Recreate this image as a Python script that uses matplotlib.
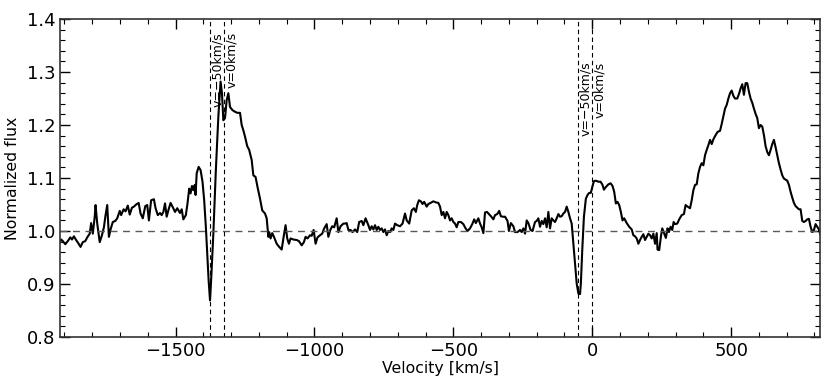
import matplotlib
matplotlib.use("Agg")
import matplotlib.pyplot as plt
from matplotlib.ticker import MultipleLocator

# spectrum
velocity = [
    -1924, -1917, -1912, -1906, -1897, -1888, -1879, -1873, -1866, -1858,
    -1849, -1842, -1834, -1825, -1818, -1809, -1804, -1798, -1791, -1788,
    -1782, -1773, -1765, -1758, -1752, -1746, -1740, -1734, -1726, -1717,
    -1710, -1701, -1696, -1687, -1680, -1672, -1665, -1657, -1650, -1642,
    -1633, -1626, -1618, -1609, -1602, -1596, -1588, -1578, -1572, -1564,
    -1556, -1550, -1544, -1538, -1532, -1526, -1518, -1511, -1502, -1494,
    -1484, -1478, -1472, -1463, -1457, -1451, -1446, -1441, -1436, -1431,
    -1428, -1424, -1417, -1410, -1403, -1397, -1391, -1386, -1381, -1376,
    -1372, -1364, -1355, -1346, -1338, -1333, -1328, -1322, -1316, -1310,
    -1304, -1295, -1286, -1278, -1268, -1262, -1256, -1250, -1242, -1235,
    -1226, -1220, -1212, -1205, -1196, -1188, -1178, -1172, -1166, -1163,
    -1158, -1152, -1145, -1136, -1127, -1118, -1111, -1104, -1098, -1092,
    -1086, -1076, -1064, -1056, -1046, -1038, -1032, -1025, -1016, -1010,
    -1003, -996, -989, -980, -972, -965, -956, -950, -943, -936,
    -929, -920, -914, -906, -896, -890, -884, -878, -870, -863,
    -854, -846, -839, -830, -824, -816, -806, -800, -794, -788,
    -782, -776, -770, -764, -758, -752, -746, -740, -734, -728,
    -722, -716, -710, -702, -692, -683, -674, -668, -659, -650,
    -642, -635, -630, -624, -617, -611, -605, -596, -590, -582,
    -572, -563, -554, -548, -542, -536, -530, -524, -518, -512,
    -506, -500, -494, -488, -482, -473, -464, -456, -449, -440,
    -432, -425, -419, -410, -404, -398, -392, -386, -379, -372,
    -365, -356, -350, -342, -335, -329, -323, -314, -305, -300,
    -293, -284, -278, -269, -260, -254, -248, -242, -236, -230,
    -222, -215, -206, -200, -194, -188, -182, -176, -170, -164,
    -158, -152, -146, -140, -134, -128, -122, -116, -110, -104,
    -98, -92, -86, -80, -74, -68, -62, -56, -50, -44,
    -41, -36, -30, -23, -17, -11, -5, 0, 6, 13,
    22, 30, 37, 42, 49, 58, 66, 73, 79, 85,
    91, 97, 103, 109, 115, 124, 133, 142, 148, 154,
    160, 166, 172, 178, 184, 190, 196, 202, 208, 214,
    220, 226, 232, 235, 241, 247, 252, 259, 265, 271,
    276, 282, 288, 293, 298, 306, 313, 322, 330, 336,
    343, 352, 358, 364, 370, 376, 382, 388, 394, 400,
    406, 412, 418, 424, 430, 436, 442, 451, 460, 466,
    472, 478, 484, 490, 496, 502, 508, 514, 522, 529,
    534, 540, 546, 552, 558, 564, 570, 576, 582, 588,
    594, 600, 606, 612, 618, 624, 630, 636, 642, 648,
    654, 660, 666, 672, 678, 684, 690, 696, 702, 708,
    714, 720, 726, 732, 738, 744, 750, 756, 762, 768,
    774, 780, 786, 792, 798, 804, 810, 816, 820, 826,
]
flux = [
    0.986, 0.979, 0.984, 0.981, 0.975, 0.981, 0.988, 0.984, 0.990, 0.983,
    0.976, 0.970, 0.979, 0.981, 0.988, 0.995, 1.015, 0.995, 1.027, 1.049,
    1.014, 0.979, 0.992, 1.007, 1.030, 1.049, 0.989, 1.003, 1.017, 1.019,
    1.024, 1.038, 1.030, 1.041, 1.037, 1.048, 1.031, 1.044, 1.046, 1.050,
    1.053, 1.033, 1.024, 1.047, 1.049, 1.020, 1.058, 1.060, 1.043, 1.030,
    1.034, 1.030, 1.036, 1.052, 1.027, 1.039, 1.053, 1.046, 1.036, 1.043,
    1.034, 1.041, 1.022, 1.030, 1.052, 1.080, 1.071, 1.085, 1.077, 1.087,
    1.068, 1.109, 1.121, 1.115, 1.093, 1.058, 1.008, 0.957, 0.907, 0.869,
    0.907, 0.995, 1.115, 1.216, 1.282, 1.260, 1.209, 1.213, 1.247, 1.260,
    1.234, 1.228, 1.225, 1.223, 1.223, 1.200, 1.190, 1.178, 1.160, 1.153,
    1.134, 1.105, 1.102, 1.083, 1.061, 1.039, 1.033, 1.024, 0.989, 0.998,
    0.986, 0.996, 0.988, 0.976, 0.970, 0.965, 0.989, 1.011, 0.986, 0.976,
    0.986, 0.984, 0.983, 0.981, 0.973, 0.979, 0.989, 0.986, 0.992, 0.991,
    1.002, 0.976, 0.988, 0.992, 0.995, 1.005, 1.013, 0.989, 1.002, 1.009,
    1.007, 1.024, 0.998, 1.009, 1.014, 1.014, 1.015, 1.002, 1.002, 0.998,
    1.003, 0.998, 1.017, 1.019, 1.011, 1.024, 1.011, 1.002, 1.009, 1.003,
    1.011, 1.002, 1.008, 1.002, 1.005, 0.998, 1.003, 0.992, 1.000, 0.998,
    1.005, 1.002, 1.014, 1.011, 1.009, 1.014, 1.033, 1.020, 1.014, 1.039,
    1.043, 1.036, 1.049, 1.058, 1.056, 1.051, 1.055, 1.046, 1.051, 1.053,
    1.056, 1.054, 1.053, 1.046, 1.030, 1.036, 1.024, 1.036, 1.030, 1.020,
    1.024, 1.017, 1.014, 1.007, 1.017, 1.017, 1.013, 1.005, 1.000, 1.005,
    1.013, 1.022, 1.015, 1.024, 1.014, 1.007, 0.996, 1.035, 1.036, 1.032,
    1.028, 1.022, 1.030, 1.032, 1.038, 1.028, 1.027, 1.027, 1.019, 1.000,
    1.015, 1.009, 0.998, 0.998, 1.002, 0.998, 1.005, 0.995, 1.020, 1.015,
    1.002, 1.000, 1.017, 1.019, 1.024, 1.008, 1.019, 1.013, 1.024, 1.007,
    1.036, 1.005, 1.024, 1.020, 1.017, 1.024, 1.032, 1.027, 1.028, 1.033,
    1.036, 1.046, 1.036, 1.024, 1.014, 0.976, 0.939, 0.901, 0.882, 0.881,
    0.901, 0.964, 1.027, 1.061, 1.068, 1.072, 1.072, 1.083, 1.094, 1.095,
    1.093, 1.093, 1.087, 1.078, 1.083, 1.088, 1.090, 1.085, 1.074, 1.052,
    1.055, 1.049, 1.036, 1.020, 1.024, 1.015, 1.008, 1.003, 0.992, 0.990,
    0.986, 0.976, 0.983, 0.989, 0.994, 0.983, 0.989, 0.995, 0.992, 0.986,
    0.995, 0.976, 0.996, 0.965, 0.964, 0.989, 1.005, 0.995, 0.987, 1.005,
    0.998, 1.008, 1.002, 1.017, 1.013, 1.014, 1.022, 1.030, 1.032, 1.049,
    1.046, 1.043, 1.058, 1.077, 1.087, 1.088, 1.109, 1.121, 1.128, 1.124,
    1.143, 1.153, 1.162, 1.172, 1.164, 1.173, 1.179, 1.187, 1.189, 1.202,
    1.217, 1.231, 1.238, 1.250, 1.260, 1.265, 1.255, 1.250, 1.250, 1.260,
    1.269, 1.277, 1.257, 1.279, 1.279, 1.263, 1.250, 1.242, 1.231, 1.221,
    1.213, 1.194, 1.200, 1.197, 1.181, 1.160, 1.149, 1.143, 1.153, 1.164,
    1.172, 1.158, 1.143, 1.128, 1.116, 1.105, 1.099, 1.097, 1.095, 1.087,
    1.074, 1.063, 1.053, 1.047, 1.044, 1.041, 1.041, 1.019, 1.017, 1.019,
    1.022, 1.023, 1.008, 0.998, 1.002, 1.013, 1.008, 1.003, 0.995, 0.990,
]

# marker lines: (velocity, label, label top in flux units)
marker_v = [-1376, -1326, -50, 0]
marker_text = ["v=\u221250km/s", "v=0km/s", "v=\u221250km/s", "v=0km/s"]
marker_top = [1.375, 1.375, 1.32, 1.32]

fig = plt.figure(figsize=(8.3, 3.88), dpi=100)
ax = fig.add_axes([0.0723, 0.1314, 0.9157, 0.8196])

ax.plot(velocity, flux, color="black", lw=1.5)
ax.axhline(1.0, color="0.35", ls="--", lw=1.0, dashes=(5, 4))
for v, t, top in zip(marker_v, marker_text, marker_top):
    ax.axvline(v, color="black", ls="--", lw=0.8, dashes=(4, 3))
    ax.text(v + 4, top, t, rotation=90, ha="left", va="top", fontsize=9)

ax.set_xlim(-1916, 820)
ax.set_ylim(0.8, 1.4)
ax.xaxis.set_major_locator(MultipleLocator(500))
ax.xaxis.set_minor_locator(MultipleLocator(100))
ax.yaxis.set_major_locator(MultipleLocator(0.1))
ax.yaxis.set_minor_locator(MultipleLocator(0.02))
ax.tick_params(which="both", direction="in", top=True, right=True, labelsize=13)
ax.tick_params(which="major", length=7, width=1)
ax.tick_params(which="minor", length=3.5, width=0.8)
for s in ax.spines.values():
    s.set_color("0.2")
    s.set_linewidth(1.2)

ax.set_xlabel("Velocity [km/s]", fontsize=11.3, labelpad=1)
ax.set_ylabel("Normalized flux", fontsize=11.3, labelpad=5)

fig.savefig("out.png", dpi=100, facecolor="white")
